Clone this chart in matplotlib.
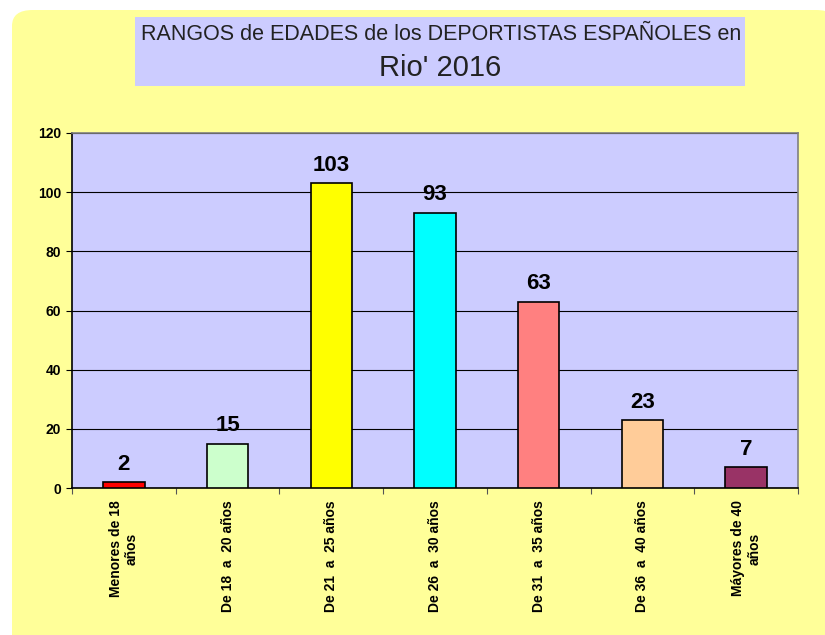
import matplotlib.pyplot as plt
from matplotlib.patches import FancyBboxPatch, Rectangle

plt.rcParams['font.family'] = ['Liberation Sans', 'DejaVu Sans']

categories = ['Menores de 18\naños', 'De 18  a  20 años', 'De 21  a  25 años',
              'De 26  a  30 años', 'De 31  a  35 años', 'De 36  a  40 años',
              'Máyores de 40\naños']
values = [2, 15, 103, 93, 63, 23, 7]
colors = ['#FF0000', '#CCFFCC', '#FFFF00', '#00FFFF', '#FF8080', '#FFCC99', '#993366']
yticks = [0, 20, 40, 60, 80, 100, 120]

W, H = 825, 635
fig = plt.figure(figsize=(W / 100, H / 100), dpi=100, facecolor='white')

# yellow chart area with rounded corner
bg = FancyBboxPatch((12 / W, -0.05), 1.0, 1 - 10 / H + 0.05,
                    boxstyle='round,pad=0,rounding_size=0.025',
                    transform=fig.transFigure, facecolor='#FFFF99',
                    edgecolor='none', zorder=0)
fig.patches.append(bg)

# title box
tb = Rectangle((135 / W, 1 - 86 / H), (745 - 135) / W, (86 - 17) / H,
               transform=fig.transFigure, facecolor='#CCCCFF',
               edgecolor='none', zorder=0.5)
fig.patches.append(tb)
fig.text(441 / W, 1 - 35 / H, 'RANGOS de EDADES de los DEPORTISTAS ESPAÑOLES en',
         ha='center', va='center', fontsize=15.5, color='#222222', zorder=2)
fig.text(440 / W, 1 - 68 / H, "Rio' 2016", ha='center', va='center',
         fontsize=21, color='#222222', zorder=2)

ax = fig.add_axes([72 / W, 1 - 488 / H, (798 - 72) / W, (488 - 133) / H])
ax.set_zorder(3)
ax.set_facecolor('#CCCCFF')
x = range(len(values))
bars = ax.bar(x, values, width=0.4, color=colors, edgecolor='black',
              linewidth=1.2, zorder=3)
for i, v in enumerate(values):
    ax.text(i, v + 2.5, str(v), ha='center', va='bottom', fontsize=16,
            fontweight='bold', zorder=4)

ax.set_xlim(-0.5, len(values) - 0.5)
ax.set_ylim(0, 120)
ax.set_yticks(yticks)
ax.set_yticklabels([str(t) for t in yticks], fontsize=10, fontweight='bold')
ax.yaxis.grid(True, color='black', linewidth=0.8, zorder=1)
ax.set_axisbelow(True)

ax.set_xticks([i + 0.5 for i in range(-1, len(values))])
ax.set_xticklabels([])
ax.set_xticks(list(x), minor=True)
ax.set_xticklabels(categories, minor=True, rotation=90, fontsize=10,
                   fontweight='bold', ha='center', va='top', ma='center')
ax.tick_params(axis='x', which='minor', length=0, pad=9)
ax.tick_params(axis='x', which='major', length=4, direction='out', color='#555555')
ax.tick_params(axis='y', length=4, direction='out', color='black', pad=4)

for s in ['left', 'bottom']:
    ax.spines[s].set_color('black')
    ax.spines[s].set_linewidth(1.2)
for s in ['top', 'right']:
    ax.spines[s].set_color('#808080')
    ax.spines[s].set_linewidth(1.2)

fig.savefig('out.png', dpi=100, facecolor=fig.get_facecolor())
